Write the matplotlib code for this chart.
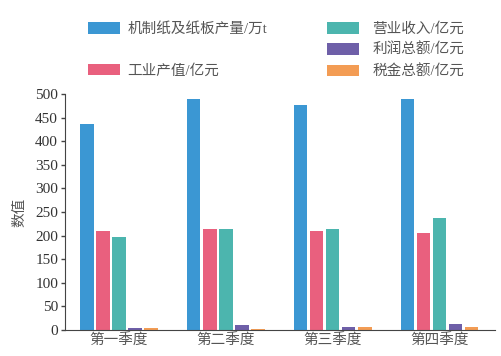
import numpy as np
import matplotlib
matplotlib.use('Agg')
import matplotlib.pyplot as plt
from matplotlib.patches import Patch

# data
quarters = ['第一季度', '第二季度', '第三季度', '第四季度']
series_names = ['机制纸及纸板产量/万t', '工业产值/亿元', '营业收入/亿元', '利润总额/亿元', '税金总额/亿元']
paper_output = [436, 490, 477, 490]
industry_value = [210, 215, 210, 205]
revenue = [196, 215, 215, 237]
profit = [4, 10, 6, 12]
tax = [4, 3, 6, 7]
colors = ['#3b97d3', '#e9607e', '#4cb5ae', '#6e5fa8', '#f39c54']

plt.rcParams['font.family'] = ['Liberation Serif', 'Noto Sans CJK SC']
txt_color = '#555555'

fig = plt.figure(figsize=(5.02, 3.56), dpi=100)
ax = fig.add_axes((0.1295, 0.073, 0.857, 0.663))

x = np.arange(len(quarters))
slot = 0.15
width = 0.125
all_series = [paper_output, industry_value, revenue, profit, tax]
for i, vals in enumerate(all_series):
    ax.bar(x + (i - 2) * slot, vals, width, color=colors[i])

ax.set_xlim(-0.505, 3.52)
ax.set_ylim(0, 500)
ax.set_yticks(np.arange(0, 501, 50))
ax.set_xticks(x)
ax.set_xticklabels(quarters, fontsize=10.5, color=txt_color, family=['Noto Sans CJK SC'])
ax.tick_params(axis='y', labelsize=11, labelcolor='#333333', length=3, width=1, color='#444444', pad=2)
ax.tick_params(axis='x', length=0, pad=3)
ax.set_ylabel('数值', fontsize=10.5, color=txt_color, family=['Noto Sans CJK SC'], labelpad=6)

ax.spines['top'].set_visible(False)
ax.spines['right'].set_visible(False)
ax.spines['left'].set_color('#444444')
ax.spines['bottom'].set_color('#444444')

handles = [Patch(facecolor=c) for c in colors]
leg_font = {'family': ['Liberation Serif', 'Noto Sans CJK SC'], 'size': 10.5}
leg1 = fig.legend([handles[0], handles[1]], [series_names[0], series_names[1]],
                  loc='upper left', bbox_to_anchor=(88 / 502, 1 - 22 / 356),
                  frameon=False, borderpad=0, borderaxespad=0, prop=leg_font,
                  handlelength=2.2, handleheight=0.85, handletextpad=0.5,
                  labelspacing=1.9, labelcolor=txt_color)
leg2 = fig.legend(handles[2:], series_names[2:],
                  loc='upper left', bbox_to_anchor=(327 / 502, 1 - 22 / 356),
                  frameon=False, borderpad=0, borderaxespad=0, prop=leg_font,
                  handlelength=2.2, handleheight=0.85, handletextpad=0.9,
                  labelspacing=0.5, labelcolor=txt_color)

fig.savefig('out.png', dpi=100)
